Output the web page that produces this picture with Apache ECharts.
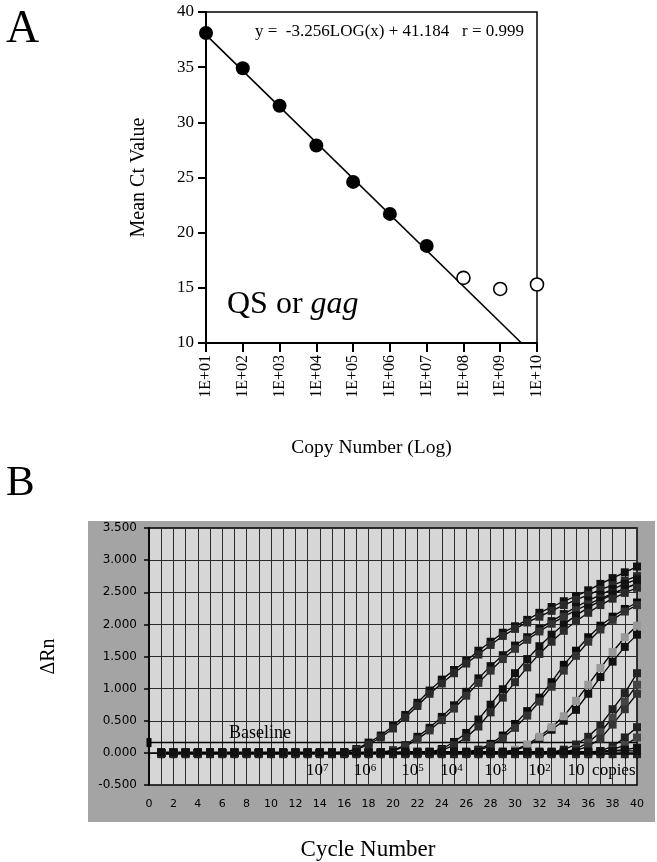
<!DOCTYPE html>
<html><head><meta charset="utf-8">
<script src="https://cdn.jsdelivr.net/npm/echarts@6/dist/echarts.min.js"></script>
<style>html,body{margin:0;padding:0;background:#fff}#c{width:657px;height:862px}</style>
</head><body><div id="c"></div>
<script>
// ---------- Panel A data ----------
const logCopyTicks = [1,2,3,4,5,6,7,8,9,10];
const filledLog = [1,2,3,4,5,6,7];
const filledCt = [38.1, 34.9, 31.5, 27.9, 24.6, 21.7, 18.8];
const openLog = [8,9,10];
const openCt = [15.9, 14.9, 15.3];
const fitLog = [1, 9.577];
const fitCt = [37.928, 10.0];

// ---------- Panel B data ----------
const cycles = [1,2,3,4,5,6,7,8,9,10,11,12,13,14,15,16,17,18,19,20,21,22,23,24,25,26,27,28,29,30,31,32,33,34,35,36,37,38,39,40];
const g1a = [0,0,0,0,0,0,0,0,0,0,0,0,0,0,0,0.01,0.06,0.16,0.27,0.42,0.59,0.78,0.97,1.14,1.29,1.43,1.59,1.73,1.87,1.97,2.07,2.18,2.27,2.36,2.44,2.53,2.63,2.72,2.81,2.90];
const g1b = [0,0,0,0,0,0,0,0,0,0,0,0,0,0,0,0.01,0.05,0.13,0.24,0.38,0.55,0.73,0.92,1.08,1.24,1.39,1.53,1.68,1.82,1.93,2.03,2.12,2.21,2.30,2.38,2.46,2.54,2.61,2.68,2.75];
const g2a = [0,0,0,0,0,0,0,0,0,0,0,0,0,0,0,0,0,0,0.01,0.04,0.12,0.25,0.39,0.56,0.74,0.95,1.16,1.35,1.52,1.67,1.80,1.93,2.05,2.16,2.27,2.37,2.46,2.55,2.63,2.70];
const g2b = [0,0,0,0,0,0,0,0,0,0,0,0,0,0,0,0,0,0,0.01,0.03,0.10,0.21,0.35,0.51,0.69,0.89,1.09,1.28,1.46,1.62,1.76,1.89,2.01,2.12,2.22,2.31,2.40,2.48,2.56,2.63];
const g3a = [0,0,0,0,0,0,0,0,0,0,0,0,0,0,0,0,0,0,0,0,0,0,0.01,0.06,0.17,0.31,0.52,0.75,0.99,1.24,1.46,1.66,1.84,2.00,2.14,2.26,2.37,2.47,2.56,2.64];
const g3b = [0,0,0,0,0,0,0,0,0,0,0,0,0,0,0,0,0,0,0,0,0,0,0.01,0.04,0.12,0.24,0.41,0.63,0.86,1.10,1.33,1.54,1.73,1.90,2.05,2.18,2.30,2.40,2.49,2.57];
const g4a = [0,0,0,0,0,0,0,0,0,0,0,0,0,0,0,0,0,0,0,0,0,0,0,0,0,0.01,0.05,0.14,0.27,0.45,0.65,0.86,1.10,1.37,1.59,1.80,1.98,2.12,2.24,2.34];
const g4b = [0,0,0,0,0,0,0,0,0,0,0,0,0,0,0,0,0,0,0,0,0,0,0,0,0,0.01,0.04,0.11,0.23,0.39,0.58,0.80,1.03,1.28,1.51,1.73,1.92,2.07,2.20,2.30];
const g5a = [0,0,0,0,0,0,0,0,0,0,0,0,0,0,0,0,0,0,0,0,0,0,0,0,0,0,0,0,0.01,0.04,0.11,0.22,0.36,0.50,0.67,0.92,1.18,1.42,1.65,1.84];
const g5b = [0,0,0,0,0,0,0,0,0,0,0,0,0,0,0,0,0,0,0,0,0,0,0,0,0,0,0,0,0.01,0.05,0.13,0.25,0.40,0.57,0.81,1.06,1.32,1.57,1.80,1.98];
const g6a = [0,0,0,0,0,0,0,0,0,0,0,0,0,0,0,0,0,0,0,0,0,0,0,0,0,0,0,0,0,0,0,0,0.01,0.05,0.13,0.25,0.43,0.68,0.93,1.24];
const g6b = [0,0,0,0,0,0,0,0,0,0,0,0,0,0,0,0,0,0,0,0,0,0,0,0,0,0,0,0,0,0,0,0,0,0.01,0.06,0.16,0.32,0.55,0.80,1.06];
const g6c = [0,0,0,0,0,0,0,0,0,0,0,0,0,0,0,0,0,0,0,0,0,0,0,0,0,0,0,0,0,0,0,0,0,0.01,0.04,0.10,0.22,0.44,0.68,0.92];
const g7a = [0,0,0,0,0,0,0,0,0,0,0,0,0,0,0,0,0,0,0,0,0,0,0,0,0,0,0,0,0,0,0,0,0,0,0,0.01,0.03,0.10,0.24,0.40];
const g7b = [0,0,0,0,0,0,0,0,0,0,0,0,0,0,0,0,0,0,0,0,0,0,0,0,0,0,0,0,0,0,0,0,0,0,0,0,0.01,0.05,0.12,0.24];
const ntc1 = [0,0,0,0,0,0,0,0,0,0,0,0,0,0,0,0,0,0,0,0,0,0,0,0,0,0,0,0,0,0,0,0,0,0,0,0.01,0.02,0.03,0.05,0.08];
const ntc2 = [-0.02,-0.02,-0.02,-0.02,-0.02,-0.02,-0.02,-0.02,-0.02,-0.02,-0.02,-0.02,-0.02,-0.02,-0.02,-0.02,-0.02,-0.02,-0.02,-0.02,-0.02,-0.02,-0.02,-0.02,-0.02,-0.02,-0.02,-0.02,-0.02,-0.02,-0.02,-0.02,-0.02,-0.02,-0.02,-0.02,-0.02,-0.02,-0.02,-0.02];
const ntc3 = [0.01,0.01,0.01,0.01,0.01,0.01,0.01,0.01,0.01,0.01,0.01,0.01,0.01,0.01,0.01,0.01,0.01,0.01,0.01,0.01,0.02,0.02,0.02,0.02,0.02,0.02,0.02,0.02,0.02,0.02,0.02,0.02,0.02,0.02,0.02,0.02,0.02,0.03,0.03,0.03];
const baselineCycles = [0, 40];
const baselineValue = 0.16;
const copyLabels = ['10|7','10|6','10|5','10|4','10|3','10|2','10','copies'];
const copyLabelCycles = [13.8, 17.7, 21.6, 24.8, 28.4, 32.0, 35.0, 38.1];
const copyLabelY = -0.28;
const baselineLabelPos = [9.1, 0.30];

const curves = [g1a,g1b,g2a,g2b,g3a,g3b,g4a,g4b,g5a,g5b,g6a,g6b,g6c,g7a,g7b,ntc1,ntc2,ntc3];
const curveColors = ['#111','#2a2a2a','#111','#333','#111','#2a2a2a','#0a0a0a','#333','#111','#999999','#222','#444','#333','#222','#444','#111','#222','#111'];

const serif = 'Liberation Serif';
const sans = 'DejaVu Sans';

const chart = echarts.init(document.getElementById('c'), null, {renderer:'canvas'});

const series = [];
// Panel A
series.push({type:'line', xAxisIndex:0, yAxisIndex:0, data: fitLog.map((x,i)=>[x, fitCt[i]]),
  symbol:'none', lineStyle:{color:'#000', width:1.6}, z:3});
series.push({type:'scatter', xAxisIndex:0, yAxisIndex:0, data: filledLog.map((x,i)=>[x, filledCt[i]]),
  symbol:'circle', symbolSize:14, itemStyle:{color:'#000', opacity:1}, z:4});
series.push({type:'scatter', xAxisIndex:0, yAxisIndex:0, data: openLog.map((x,i)=>[x, openCt[i]]),
  symbol:'circle', symbolSize:13, itemStyle:{color:'#fff', borderColor:'#000', borderWidth:1.6, opacity:1}, z:4, clip:false});
// Panel B curves
curves.forEach((vals, k) => {
  series.push({type:'line', xAxisIndex:1, yAxisIndex:1, data: cycles.map((c,i)=>[c, vals[i]]),
    symbol:'rect', symbolSize:8, showSymbol:true, showAllSymbol:true,
    lineStyle:{color:'#000', width:1.3}, itemStyle:{color:curveColors[k], opacity:1}, z:3});
});
// Baseline
series.push({type:'line', xAxisIndex:1, yAxisIndex:1,
  data: [{value:[baselineCycles[0], baselineValue], symbol:'rect', symbolSize:[5,9]}, {value:[baselineCycles[1], baselineValue], symbol:'none'}],
  lineStyle:{color:'#000', width:1.5}, itemStyle:{color:'#000'}, z:2});
// Annotations
const noBorder = {textBorderWidth:0, textBorderColor:'transparent', textShadowBlur:0};
series.push({type:'scatter', xAxisIndex:1, yAxisIndex:1, symbolSize:0, z:6, itemStyle:{opacity:1},
  data: copyLabels.map((t,i)=>({value:[copyLabelCycles[i], copyLabelY], name:t})),
  label:Object.assign({show:true, position:'inside', color:'#000',
    formatter: p => { const s = p.name.split('|'); return s.length>1 ? '{b|'+s[0]+'}{s|'+s[1]+'}' : '{b|'+s[0]+'}'; },
    rich:{ b:Object.assign({fontFamily:serif, fontSize:17, color:'#000'}, noBorder), s:Object.assign({fontFamily:serif, fontSize:11, color:'#000', verticalAlign:'top', padding:[0,0,6,0]}, noBorder) } }, noBorder)});
series.push({type:'scatter', xAxisIndex:1, yAxisIndex:1, symbolSize:0, z:6, itemStyle:{opacity:1},
  data:[{value:baselineLabelPos, name:'Baseline'}],
  label:Object.assign({show:true, position:'inside', formatter:'{b}', fontFamily:serif, fontSize:18, color:'#000'}, noBorder)});

const option = {
  animation:false,
  backgroundColor:'#fff',
  grid:[
    {left:206, top:12, width:331, height:331, show:true, borderColor:'#000', borderWidth:1.5, backgroundColor:'transparent'},
    {left:149, top:528, width:488, height:257, show:true, borderColor:'#000', borderWidth:1.5, backgroundColor:'#d6d6d6'}
  ],
  xAxis:[
    {gridIndex:0, type:'value', min:1, max:10, interval:1,
      axisLine:{lineStyle:{color:'#000', width:2}}, axisTick:{length:9, lineStyle:{color:'#000', width:2}},
      splitLine:{show:false},
      axisLabel:{rotate:90, margin:12, fontFamily:serif, fontSize:16, color:'#000',
        formatter: v => '1E+' + (v<10 ? '0'+v : v)},
      name:'Copy Number (Log)', nameLocation:'middle', nameGap:95,
      nameTextStyle:{fontFamily:serif, fontSize:19.5, color:'#000'}},
    {gridIndex:1, type:'value', min:0, max:40, interval:1,
      axisLine:{lineStyle:{color:'#000', width:1.5}}, axisTick:{length:6, lineStyle:{color:'#000', width:1.2}},
      splitLine:{show:true, lineStyle:{color:'#2a2a2a', width:1}},
      axisLabel:{margin:14, fontFamily:sans, fontSize:11, color:'#000', formatter: v => (v%2===0 ? String(v) : '')},
      name:'Cycle Number', nameLocation:'middle', nameGap:53,
      nameTextStyle:{fontFamily:serif, fontSize:23, color:'#000', padding:[0,50,0,0]}}
  ],
  yAxis:[
    {gridIndex:0, type:'value', min:10, max:40, interval:5,
      axisLine:{lineStyle:{color:'#000', width:2}}, axisTick:{length:8, lineStyle:{color:'#000', width:2}},
      splitLine:{show:false},
      axisLabel:{margin:12, fontFamily:serif, fontSize:17, color:'#000'},
      name:'Mean Ct Value', nameLocation:'middle', nameGap:57, nameRotate:90,
      nameTextStyle:{fontFamily:serif, fontSize:20, color:'#000'}},
    {gridIndex:1, type:'value', min:-0.5, max:3.5, interval:0.5,
      axisLine:{lineStyle:{color:'#000', width:1.5}}, axisTick:{length:5, lineStyle:{color:'#000', width:1.5}},
      splitLine:{show:true, lineStyle:{color:'#2a2a2a', width:1}},
      axisLabel:{margin:12, fontFamily:sans, fontSize:12, color:'#000', formatter: v => v.toFixed(3)},
      name:'ΔRn', nameLocation:'middle', nameGap:90, nameRotate:90,
      nameTextStyle:{fontFamily:serif, fontSize:20, color:'#000'}}
  ],
  graphic:[
    {type:'rect', shape:{x:88, y:521, width:567, height:301}, style:{fill:'#a4a4a4'}, z:-100, silent:true},
    {type:'text', left:6, top:7, style:{text:'A', fontFamily:serif, fontSize:46, fill:'#000'}},
    {type:'text', left:6, top:462, style:{text:'B', fontFamily:serif, fontSize:43, fill:'#000'}},
    {type:'text', left:255, top:23, style:{text:'y =  -3.256LOG(x) + 41.184   r = 0.999', fontFamily:serif, fontSize:17, fill:'#000'}},
    {type:'text', left:227, top:289, style:{text:'{n|QS or }{i|gag}', rich:{n:{fontFamily:serif, fontSize:32, fill:'#000', color:'#000'}, i:{fontFamily:serif, fontSize:32, fontStyle:'italic', color:'#000', fill:'#000'}}}}
  ],
  series: series
};
chart.setOption(option);
</script></body></html>
